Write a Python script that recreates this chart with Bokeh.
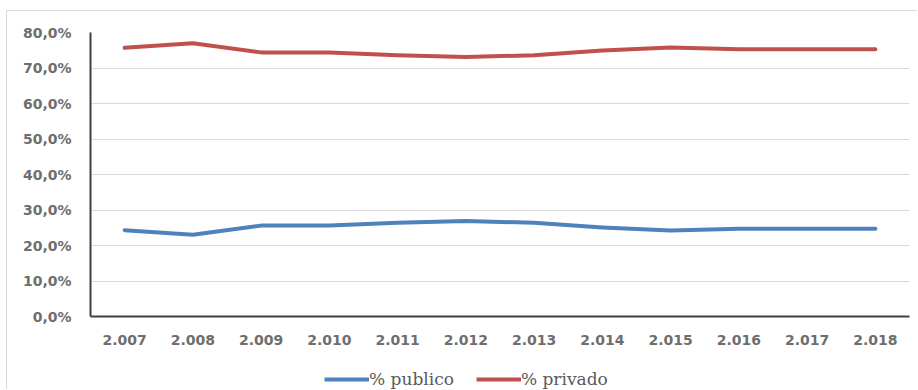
from bokeh.plotting import figure
from bokeh.layouts import column
from bokeh.models import (ColumnDataSource, FactorRange, Range1d, Legend, LegendItem,
                          CustomJSTickFormatter, FixedTicker)
from bokeh.embed import file_html
from bokeh.resources import INLINE

years = ["2.007", "2.008", "2.009", "2.010", "2.011", "2.012",
         "2.013", "2.014", "2.015", "2.016", "2.017", "2.018"]
publico = [24.3, 23.0, 25.6, 25.6, 26.4, 26.9, 26.4, 25.1, 24.2, 24.7, 24.7, 24.7]
privado = [75.7, 77.0, 74.4, 74.4, 73.6, 73.1, 73.6, 74.9, 75.8, 75.3, 75.3, 75.3]
y_ticks = [0, 10, 20, 30, 40, 50, 60, 70, 80]
series_names = ["% publico", "% privado"]
series_cols = ["pub", "priv"]
series_colors = ["#4f81bd", "#c0504d"]

src = ColumnDataSource(dict(x=years, pub=publico, priv=privado))

p = figure(width=911, height=351, x_range=FactorRange(*years, range_padding=0),
           y_range=Range1d(0, 80), output_backend="svg", toolbar_location=None,
           min_border_left=83, min_border_right=9, min_border_top=21, min_border_bottom=46)
p.styles = {"margin-left": "6px", "margin-top": "10px",
            "border-top": "1px solid #d9d9d9", "border-left": "1px solid #d9d9d9"}
p.outline_line_color = None

for col, c in zip(series_cols, series_colors):
    p.line("x", col, source=src, line_color=c, line_width=4, line_join="round", line_cap="round")

p.xgrid.grid_line_color = None
p.ygrid.grid_line_color = "#d9d9d9"
p.ygrid.grid_line_width = 1

p.yaxis.ticker = FixedTicker(ticks=y_ticks)
p.yaxis.formatter = CustomJSTickFormatter(code="return tick.toFixed(1).replace('.', ',') + '%';")
for ax in (p.xaxis[0], p.yaxis[0]):
    ax.axis_line_color = "#404040"
    ax.axis_line_width = 2
    ax.major_tick_line_color = None
    ax.minor_tick_line_color = None
    ax.major_label_text_font = "DejaVu Sans"
    ax.major_label_text_font_style = "bold"
    ax.major_label_text_font_size = "14px"
    ax.major_label_text_color = "#6e6e6e"
p.yaxis.major_label_standoff = 13
p.xaxis.major_label_standoff = 12

# legend strip below the chart (series lines drawn out of view; only the legend shows)
p2 = figure(width=911, height=28, output_backend="svg", toolbar_location=None,
            min_border=0, x_axis_type=None, y_axis_type=None,
            x_range=FactorRange(*years, range_padding=0), y_range=Range1d(200, 201))
p2.styles = {"margin-left": "6px", "border-left": "1px solid #d9d9d9"}
p2.outline_line_color = None
p2.grid.visible = False
lr = [p2.line("x", col, source=src, line_color=c, line_width=4)
      for col, c in zip(series_cols, series_colors)]
legend = Legend(items=[LegendItem(label=n, renderers=[r]) for n, r in zip(series_names, lr)],
                orientation="horizontal", location=(234, 0),
                label_text_font="DejaVu Serif", label_text_font_size="17px",
                label_text_color="#595959", glyph_width=45, label_standoff=0,
                spacing=22, border_line_color=None, background_fill_alpha=0,
                padding=2, margin=0, label_height=16, glyph_height=16)
p2.add_layout(legend, "center")

layout = column(p, p2, spacing=0)
open("out.html", "w").write(file_html(layout, INLINE))
